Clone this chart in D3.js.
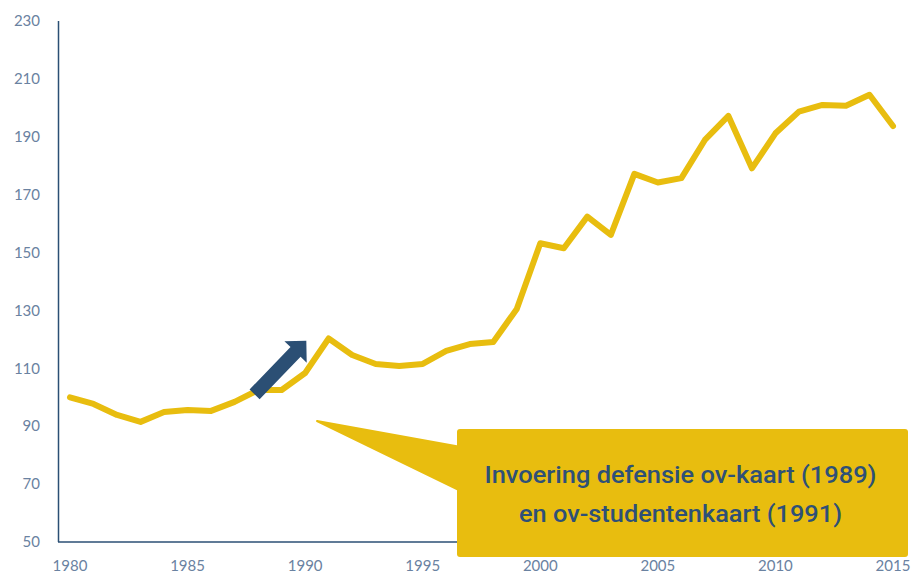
<!DOCTYPE html>
<html>
<head>
<meta charset="utf-8">
<script src="https://cdn.jsdelivr.net/npm/d3@7"></script>
<style>
  body { margin: 0; background: #fff; }
  svg { display: block; }
</style>
</head>
<body>
<svg id="chart" width="918" height="574"></svg>
<script>
// data
var years = d3.range(1980, 2016);
var values = [100, 97.7, 93.9, 91.5, 94.9, 95.6, 95.3, 98.4, 102.5, 102.5,
              108.4, 120.3, 114.6, 111.5, 110.8, 111.5, 116, 118.4, 119.1, 130.5,
              153.2, 151.5, 162.4, 156.1, 177.2, 174.2, 175.7, 188.9, 197.2, 179.1,
              191.2, 198.7, 201, 200.7, 204.5, 193.7];
var yTicks = [50, 70, 90, 110, 130, 150, 170, 190, 210, 230];
var xTicks = [1980, 1985, 1990, 1995, 2000, 2005, 2010, 2015];
var calloutLines = ["Invoering defensie ov-kaart (1989)", "en ov-studentenkaart (1991)"];

var svg = d3.select("#chart");

var x = d3.scaleLinear().domain([1980, 2015]).range([70, 893]);
var y = d3.scaleLinear().domain([50, 230]).range([542, 21]);

var axisColor = "#2b4f74";
var labelColor = "#6a82a1";
var yellow = "#e8bd0f";

// axes lines
svg.append("line")
   .attr("x1", 58.5).attr("x2", 58.5)
   .attr("y1", y(230)).attr("y2", y(50))
   .attr("stroke", axisColor).attr("stroke-width", 1.5);

svg.append("line")
   .attr("x1", 58).attr("x2", 905)
   .attr("y1", y(50)).attr("y2", y(50))
   .attr("stroke", axisColor).attr("stroke-width", 1.5);

// tick labels
svg.append("g").selectAll("text")
   .data(yTicks).enter().append("text")
   .attr("x", 40)
   .attr("y", function(d) { return y(d); })
   .attr("dy", "0.35em")
   .attr("text-anchor", "end")
   .attr("font-family", "Lato, sans-serif")
   .attr("font-size", 15)
   .attr("fill", labelColor)
   .text(function(d) { return d; });

svg.append("g").selectAll("text")
   .data(xTicks).enter().append("text")
   .attr("x", function(d) { return x(d); })
   .attr("y", 571)
   .attr("text-anchor", "middle")
   .attr("font-family", "Lato, sans-serif")
   .attr("font-size", 15)
   .attr("fill", labelColor)
   .text(function(d) { return d; });

// series line
var line = d3.line()
   .x(function(d, i) { return x(years[i]); })
   .y(function(d) { return y(d); });

svg.append("path")
   .datum(values)
   .attr("d", line)
   .attr("fill", "none")
   .attr("stroke", yellow)
   .attr("stroke-width", 6)
   .attr("stroke-linejoin", "round")
   .attr("stroke-linecap", "round");

// arrow pointing at the 1989-1991 rise
var a0 = [x(1987.85), y(101)], a1 = [x(1990.05), y(119.5)];
var len = Math.hypot(a1[0] - a0[0], a1[1] - a0[1]);
var ang = Math.atan2(a1[1] - a0[1], a1[0] - a0[0]) * 180 / Math.PI;
var sw = 7, hw = 15.5, hl = 15.5;
svg.append("path")
   .attr("d", "M0," + (-sw) + "L" + (len - hl) + "," + (-sw) + "L" + (len - hl) + "," + (-hw) +
              "L" + len + ",0L" + (len - hl) + "," + hw + "L" + (len - hl) + "," + sw +
              "L0," + sw + "Z")
   .attr("transform", "translate(" + a0[0] + "," + a0[1] + ") rotate(" + ang + ")")
   .attr("fill", axisColor);

// callout
var box = { x: 457, y: 429, w: 451, h: 128 };
var g = svg.append("g").attr("class", "callout");

g.append("path")
   .attr("d", "M317,421L" + (box.x + 4) + ",447L" + (box.x + 4) + ",491Z")
   .attr("fill", yellow)
   .attr("stroke", yellow)
   .attr("stroke-width", 2)
   .attr("stroke-linejoin", "round");

g.append("rect")
   .attr("x", box.x).attr("y", box.y)
   .attr("width", box.w).attr("height", box.h)
   .attr("rx", 3)
   .attr("fill", yellow);

var widths = [392, 323];
g.selectAll("text")
   .data(calloutLines).enter().append("text")
   .attr("x", box.x + box.w / 2 - 2)
   .attr("y", function(d, i) { return 483 + i * 38.5; })
   .attr("text-anchor", "middle")
   .attr("font-family", "Roboto, 'Open Sans', sans-serif")
   .attr("font-weight", 500)
   .attr("font-size", 23)
   .attr("fill", "#2e5077")
   .attr("textLength", function(d, i) { return widths[i]; })
   .attr("lengthAdjust", "spacingAndGlyphs")
   .text(function(d) { return d; });
</script>
</body>
</html>
